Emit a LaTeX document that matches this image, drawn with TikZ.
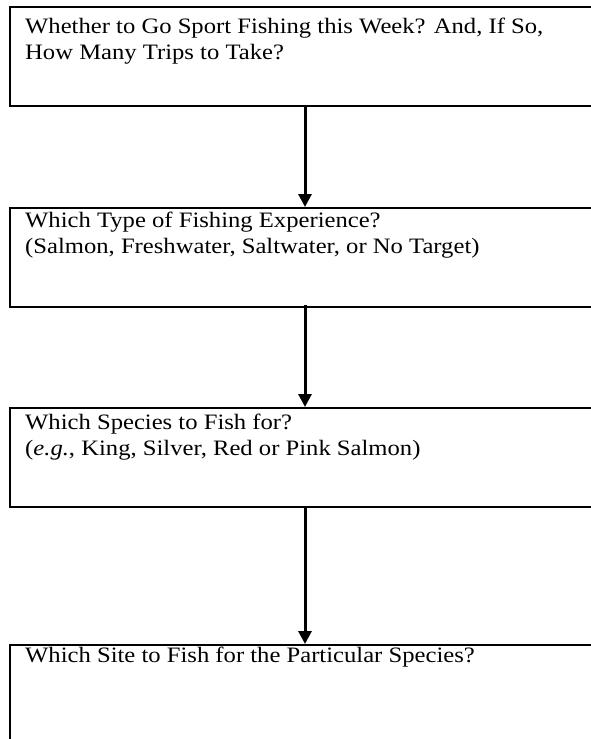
\documentclass[tikz,border=0pt]{standalone}
\usepackage{fontspec}
\setmainfont{Liberation Serif}
\newfontfamily\qfont[FakeStretch=1.12]{Liberation Serif}
\usetikzlibrary{arrows.meta,calc}
\tikzset{
  qbox/.style={draw=black, line width=1.5pt, rectangle, anchor=north west,
    minimum width=600pt, minimum height=99pt, inner sep=0pt},
  qtext/.style={anchor=base west, inner sep=0pt, align=left,
    font=\qfont\fontsize{22}{26.5}\selectfont},
  flow/.style={line width=3pt, -{Triangle[length=13pt,width=13pt]}}
}
\begin{document}
\begin{tikzpicture}[x=1pt,y=-1pt]
\useasboundingbox (0,0) rectangle (590,739);
\node[qbox] (b1) at (9,6) {};
\node[qbox] (b2) at (9,207) {};
\node[qbox] (b3) at (9,407) {};
\node[qbox, minimum height=110pt] (b4) at (9,644) {};
\node[qtext] (t1) at (25,59.5) {Whether to Go Sport Fishing this Week? And, If So,\\How Many Trips to Take?};
\node[qtext] (t2) at (25,253.5) {Which Type of Fishing Experience?\\(Salmon, Freshwater, Saltwater, or No Target)};
\node[qtext] (t3) at (25,455.5) {Which Species to Fish for?\\(\textit{e.g.}, King, Silver, Red or Pink Salmon)};
\node[qtext] (t4) at (25,662) {Which Site to Fish for the Particular Species?};
\coordinate (a1) at (305,106);
\coordinate (a2) at (305,207);
\coordinate (a3) at (305,305);
\coordinate (a4) at (305,407);
\coordinate (a5) at (305,506);
\coordinate (a6) at (305,644);
\draw[flow] (a1) -- (a2);
\draw[flow] (a3) -- (a4);
\draw[flow] (a5) -- (a6);
\end{tikzpicture}
\end{document}
